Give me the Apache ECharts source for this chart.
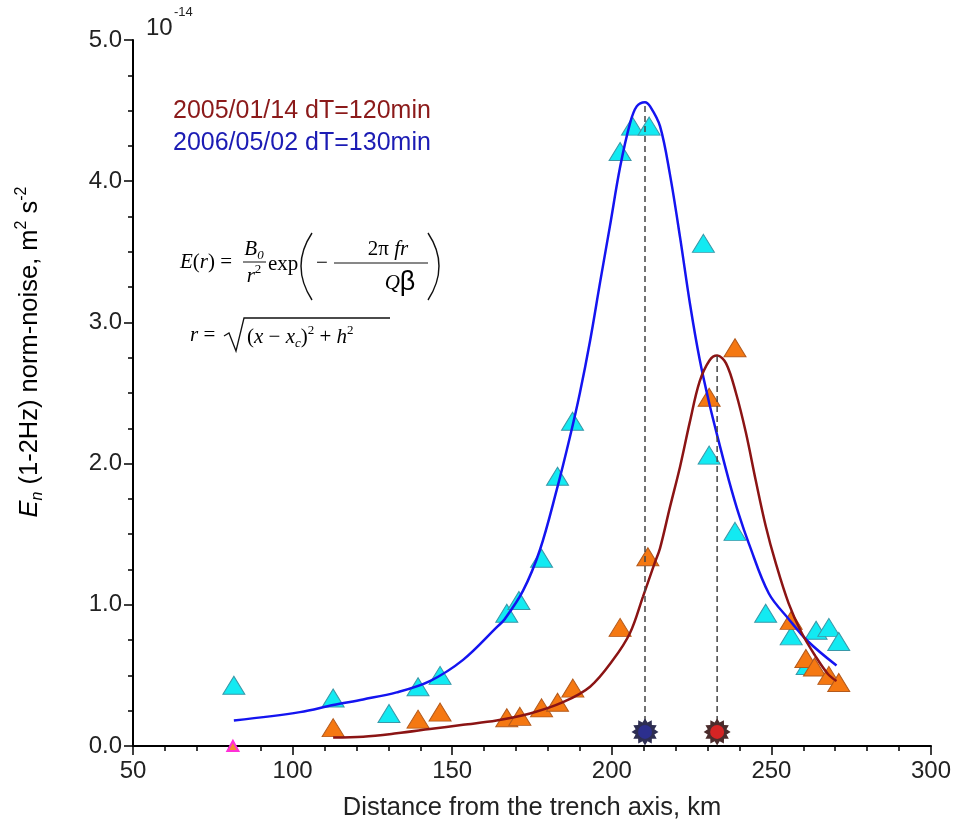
<!DOCTYPE html>
<html><head><meta charset="utf-8">
<script src="https://cdn.jsdelivr.net/npm/echarts@6/dist/echarts.min.js"></script>
<style>html,body{margin:0;padding:0;background:#fff}#c{width:955px;height:835px}</style>
</head><body><div id="c"></div>
<script>
// ---- data ----
const xTickLabels = ['50','100','150','200','250','300'];
const yTickLabels = ['0.0','1.0','2.0','3.0','4.0','5.0'];

// 2006/05/02 observations (cyan triangles)
const obs2006 = [
  [81.6,0.43],[112.7,0.34],[130.2,0.23],[139.3,0.42],[146.2,0.50],
  [167.1,0.94],[170.9,1.03],[178.0,1.33],[183.0,1.91],[187.7,2.30],
  [202.6,4.21],[206.5,4.39],[211.7,4.39],[228.7,3.56],[230.5,2.06],
  [238.6,1.52],[248.2,0.94],[256.2,0.78],[264.0,0.82],[268.0,0.84],
  [271.1,0.74],[261.2,0.57]
];
// 2005/01/14 observations (orange triangles)
const obs2005 = [
  [112.7,0.13],[139.3,0.19],[146.2,0.24],[167.1,0.20],[171.2,0.21],
  [178.0,0.27],[183.0,0.31],[187.8,0.41],[202.6,0.84],[211.3,1.34],
  [230.5,2.47],[238.6,2.82],[256.2,0.89],[260.8,0.62],[263.5,0.56],
  [268.0,0.50],[271.1,0.45]
];
// fitted curves
const fit2006 = [
  [81.6,0.18],[102.3,0.24],[112.7,0.29],[122.1,0.33],[132.6,0.38],[143.0,0.46],
  [153.4,0.61],[163.9,0.84],[166.5,0.90],[172.2,1.10],[177.5,1.39],[182.7,1.81],
  [186.9,2.19],[190.0,2.50],[193.2,2.87],[196.3,3.28],[199.4,3.68],[202.6,4.10],
  [205.7,4.41],[207.8,4.53],[210.4,4.56],[212.0,4.53],[215.1,4.39],[218.2,4.05],
  [221.4,3.60],[224.5,3.13],[227.5,2.74],[230.6,2.42],[233.7,2.14],[236.7,1.88],
  [239.8,1.64],[243.0,1.43],[249.2,1.08],[255.4,0.90],[261.5,0.74],[270.4,0.57]
];
const fit2005 = [
  [112.7,0.06],[122.1,0.066],[132.6,0.09],[143.0,0.12],[153.4,0.15],[163.9,0.18],
  [174.4,0.23],[184.7,0.31],[193.2,0.42],[200.4,0.61],[205.7,0.80],[209.8,1.06],
  [213.5,1.30],[215.1,1.40],[218.2,1.69],[221.4,1.98],[224.4,2.29],[227.5,2.58],
  [230.6,2.73],[233.0,2.765],[235.8,2.71],[238.9,2.50],[242.0,2.22],[245.1,1.88],
  [248.2,1.56],[251.3,1.30],[255.4,1.01],[259.5,0.80],[263.7,0.64],[267.7,0.51],
  [270.4,0.46]
];
const peakLine2006 = [[210.4,0.1],[210.4,4.56]];
const peakLine2005 = [[233.0,0.1],[233.0,2.765]];
const epicenter2006 = [[210.4,0.1]];
const epicenter2005 = [[233.0,0.1]];
const stationMark = [[81.3,0.0]];

// ---- star symbol shape ----
function starPath(n, ro, ri){
  let d='';
  for(let i=0;i<2*n;i++){
    const r = i%2===0?ro:ri;
    const a = Math.PI*i/n - Math.PI/2;
    d += (i===0?'M':'L') + (50+r*Math.cos(a)).toFixed(2)+' '+(50+r*Math.sin(a)).toFixed(2)+' ';
  }
  return 'path://'+d+'Z';
}
const STAR = starPath(12, 50, 36);

const chart = echarts.init(document.getElementById('c'), null, {renderer:'canvas'});
const SANS = 'Liberation Sans, Arial, sans-serif';
const SERIF = 'Liberation Serif, Times New Roman, serif';

const serifRich = {
  t:{fontFamily:SERIF,fontSize:21,color:'#111',lineHeight:26},
  i:{fontFamily:SERIF,fontStyle:'italic',fontSize:21,color:'#111',lineHeight:26},
  s:{fontFamily:SERIF,fontStyle:'italic',fontSize:13,color:'#111',lineHeight:13,verticalAlign:'bottom'},
  p:{fontFamily:SERIF,fontSize:13,color:'#111',lineHeight:13,verticalAlign:'top'},
  b:{fontFamily:SANS,fontSize:27,color:'#111',lineHeight:26}
};
function T(x,y,text,align,extra){
  return {type:'text',x:x,y:y,silent:true,style:Object.assign({text:text,rich:serifRich,align:align||'left',verticalAlign:'middle'},extra||{})};
}

const option = {
  animation:false,
  backgroundColor:'#fff',
  grid:{left:133,right:24,top:40,bottom:89,containLabel:false},
  xAxis:{
    type:'value',min:50,max:300,interval:50,
    axisLine:{show:true,onZero:false,lineStyle:{color:'#000',width:2}},
    axisTick:{show:true,inside:false,length:9,lineStyle:{color:'#000',width:1.5}},
    minorTick:{show:true,splitNumber:5,length:5,lineStyle:{color:'#000',width:1.5}},
    splitLine:{show:false},
    axisLabel:{fontSize:24,color:'#222',margin:13,fontFamily:SANS,
      formatter:v=>{const i=(v-50)/50;return Number.isInteger(i)&&xTickLabels[i]?xTickLabels[i]:'';}},
    name:'Distance from the trench axis, km',nameLocation:'middle',nameGap:49,
    nameTextStyle:{fontSize:25.5,color:'#222',fontFamily:SANS}
  },
  yAxis:{
    type:'value',min:0,max:5,interval:1,
    axisLine:{show:true,onZero:false,lineStyle:{color:'#000',width:2}},
    axisTick:{show:true,inside:false,length:9,lineStyle:{color:'#000',width:1.5}},
    minorTick:{show:true,splitNumber:4,length:5,lineStyle:{color:'#000',width:1.5}},
    splitLine:{show:false},
    axisLabel:{fontSize:24,color:'#222',margin:11,fontFamily:SANS,
      formatter:v=>{const i=Math.round(v);return Math.abs(v-i)<1e-6&&yTickLabels[i]?yTickLabels[i]:'';}}
  },
  series:[
    {type:'scatter',data:obs2006,symbol:'triangle',symbolSize:[22,18],z:2,
      itemStyle:{color:'#12eaf2',borderColor:'#3a98a8',borderWidth:1,opacity:1}},
    {type:'scatter',data:obs2005,symbol:'triangle',symbolSize:[22,18],z:2,
      itemStyle:{color:'#f57812',borderColor:'#b45a1c',borderWidth:1,opacity:1}},
    {type:'scatter',data:stationMark,symbol:'triangle',symbolSize:[11,10],z:6,
      itemStyle:{color:'#f48a30',borderColor:'#ff30d8',borderWidth:2,opacity:1}},
    {type:'line',data:fit2006,smooth:0.35,showSymbol:false,symbol:'none',z:3,
      lineStyle:{color:'#1414f0',width:2.5}},
    {type:'line',data:fit2005,smooth:0.35,showSymbol:false,symbol:'none',z:3,
      lineStyle:{color:'#8b1414',width:2.5}},
    {type:'line',data:peakLine2006,showSymbol:false,symbol:'none',z:4,
      lineStyle:{color:'#444',width:1.5,type:[6,4]}},
    {type:'line',data:peakLine2005,showSymbol:false,symbol:'none',z:4,
      lineStyle:{color:'#444',width:1.5,type:[6,4]}},
    {type:'scatter',data:epicenter2006,symbol:STAR,symbolSize:27,z:5,
      itemStyle:{color:'#2e2e52',opacity:1}},
    {type:'scatter',data:epicenter2006,symbol:'circle',symbolSize:14,z:6,
      itemStyle:{color:'#2c2f8e',opacity:1}},
    {type:'scatter',data:epicenter2005,symbol:STAR,symbolSize:27,z:5,
      itemStyle:{color:'#4b2c2c',opacity:1}},
    {type:'scatter',data:epicenter2005,symbol:'circle',symbolSize:14,z:6,
      itemStyle:{color:'#d42424',opacity:1}}
  ],
  graphic:[
    // 10^-14 multiplier
    {type:'text',x:146,y:28,silent:true,style:{text:'10',fontFamily:SANS,fontSize:24,fill:'#222',verticalAlign:'middle'}},
    {type:'text',x:174,y:12,silent:true,style:{text:'-14',fontFamily:SANS,fontSize:13,fill:'#222',verticalAlign:'middle'}},
    // legend texts
    {type:'text',x:173,y:111,silent:true,style:{text:'2005/01/14 dT=120min',fontFamily:SANS,fontSize:25,fill:'#8b1a1a',verticalAlign:'middle'}},
    {type:'text',x:173,y:143,silent:true,style:{text:'2006/05/02 dT=130min',fontFamily:SANS,fontSize:25,fill:'#1c1cb4',verticalAlign:'middle'}},
    // y-axis title
    {type:'text',x:30,y:352,rotation:Math.PI/2,silent:true,style:{
      text:'{i|E}{sub|n}{t| (1-2Hz) norm-noise, m}{sup|2}{t| s}{sup|-2}',
      align:'center',verticalAlign:'middle',
      rich:{
        t:{fontFamily:SANS,fontSize:25.5,color:'#222',lineHeight:32},
        i:{fontFamily:SANS,fontStyle:'italic',fontSize:25.5,color:'#222',lineHeight:32},
        sub:{fontFamily:SANS,fontStyle:'italic',fontSize:16,color:'#222',lineHeight:16,verticalAlign:'bottom'},
        sup:{fontFamily:SANS,fontSize:16,color:'#222',lineHeight:16,verticalAlign:'top'}
      }}},
    // formula line 1
    T(180,262,'{i|E}{t|(}{i|r}{t|) =}'),
    T(254,249,'{i|B}{s|0}','center'),
    {type:'line',silent:true,shape:{x1:243,y1:262,x2:266,y2:262},style:{stroke:'#111',lineWidth:1}},
    T(254,276,'{i|r}{p|2}','center'),
    T(268,264,'{t|exp}'),
    {type:'bezierCurve',silent:true,shape:{x1:312,y1:233,cpx1:290,cpy1:266,x2:312,y2:300},style:{stroke:'#111',lineWidth:1.4,fill:null}},
    T(316,263,'{t|−}'),
    T(388,249,'{t|2π }{i|fr}','center'),
    {type:'line',silent:true,shape:{x1:334,y1:263,x2:428,y2:263},style:{stroke:'#111',lineWidth:1}},
    T(400,283,'{i|Q}{b|β}','center'),
    {type:'bezierCurve',silent:true,shape:{x1:428,y1:233,cpx1:450,cpy1:266,x2:428,y2:300},style:{stroke:'#111',lineWidth:1.4,fill:null}},
    // formula line 2
    T(190,335,'{i|r}{t| =}'),
    {type:'polyline',silent:true,shape:{points:[[224,336],[229,333],[236,351],[244,318],[390,318]]},style:{stroke:'#111',lineWidth:1.3,fill:null}},
    T(247,337,'{t|(}{i|x}{t| − }{i|x}{s|c}{t|)}{p|2}{t| + }{i|h}{p|2}')
  ]
};
chart.setOption(option);
</script></body></html>
